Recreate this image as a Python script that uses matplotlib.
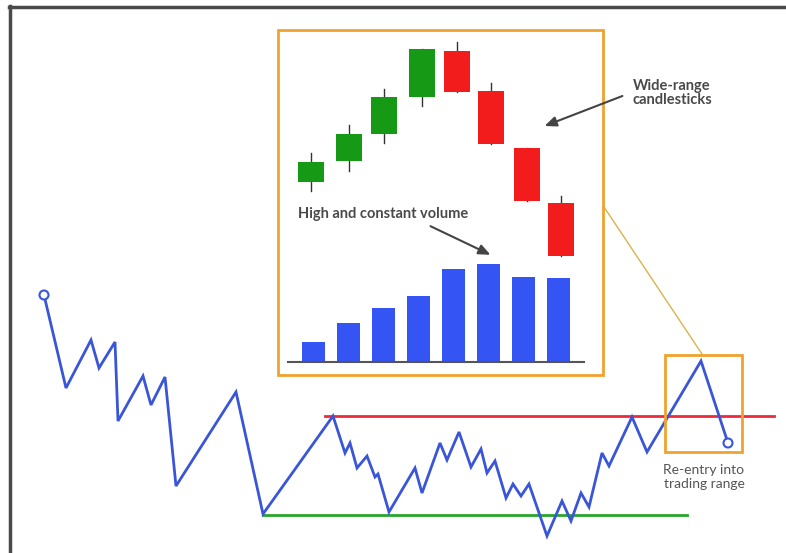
import matplotlib.pyplot as plt
from matplotlib.patches import Rectangle, Circle

plt.rcParams['font.family'] = ['Lato', 'DejaVu Sans']

# price path (pixel units, y grows downwards)
path_x = [44, 66, 91, 99, 115, 118, 143, 151, 165, 176, 236, 263, 333, 345,
          350, 357, 367, 375, 378, 389, 415, 422, 440, 447, 459, 471, 481,
          487, 495, 506, 513, 521, 529, 547, 562, 571, 581, 589, 602, 609,
          632, 647, 701, 728]
path_y = [295, 388, 340, 368, 342, 421, 376, 405, 377, 486, 392, 514, 416,
          453, 443, 468, 456, 477, 474, 512, 468, 493, 443, 460, 432, 467,
          449, 473, 461, 498, 484, 496, 484, 536, 501, 521, 493, 507, 453,
          466, 417, 452, 361, 443]

range_top = 416
range_top_x = [325, 774]
range_bottom = 515
range_bottom_x = [263, 687]

# inset candles
candle_x = [311, 349, 384, 422, 457, 491, 527, 561]
candle_open = [182, 161, 134, 97, 51, 91, 148, 203]
candle_close = [162, 134, 97, 49, 92, 144, 201, 256]
candle_high = [153, 125, 89, 49, 42, 83, 148, 196]
candle_low = [191, 171, 143, 106, 92, 144, 201, 256]

# inset volume
vol_x = [313, 348, 383, 418, 453, 488, 523, 558]
vol_top = [342, 323, 308, 296, 269, 264, 277, 278]
vol_base = 362

fig = plt.figure(figsize=(7.86, 5.53), dpi=100)
ax = fig.add_axes([0, 0, 1, 1])
ax.set_xlim(0, 786)
ax.set_ylim(553, 0)
ax.axis('off')

# outer frame (top and left only)
ax.plot([9, 786], [6.5, 6.5], color='#4a4a4a', lw=2.5)
ax.plot([9.5, 9.5], [6, 553], color='#4a4a4a', lw=2.5)

blue = '#3a56d8'
ax.plot(range_top_x, [range_top, range_top], color='#ee2a3a', lw=2, zorder=2)
ax.plot(range_bottom_x, [range_bottom, range_bottom], color='#2aa52a', lw=2, zorder=2)
ax.plot(path_x, path_y, color=blue, lw=2, zorder=3, solid_joinstyle='miter')
for i in (0, -1):
    ax.add_patch(Circle((path_x[i], path_y[i]), 4.5, facecolor='white',
                        edgecolor=blue, lw=1.5, zorder=4))

orange = '#f0a22e'
ax.add_patch(Rectangle((278, 30), 325, 345, fill=False, edgecolor=orange,
                       lw=2, zorder=5))
ax.add_patch(Rectangle((665, 355), 77, 97, fill=False, edgecolor=orange,
                       lw=2, zorder=5))
ax.plot([604, 702], [207, 354], color='#d8b44a', lw=1, zorder=4)

# candlesticks
for x, o, c, h, l in zip(candle_x, candle_open, candle_close, candle_high, candle_low):
    col = '#169a16' if c < o else '#f21c1c'
    ax.plot([x, x], [h, l], color='#333333', lw=1, zorder=5)
    ax.add_patch(Rectangle((x - 13, min(o, c)), 26, abs(o - c),
                           facecolor=col, edgecolor='none', zorder=6))

# volume bars
ax.bar(vol_x, [vol_base - t for t in vol_top], width=23, bottom=vol_top,
       color='#3454f4', zorder=5)
ax.plot([288, 584], [vol_base, vol_base], color='#555555', lw=1.5, zorder=6)

txt = '#4a4a4a'
ax.text(298, 214, 'High and constant volume', fontsize=10.5, fontweight='bold',
        color=txt, ha='left', va='center', zorder=7)
ax.annotate('', xy=(493, 256), xytext=(428, 225),
            arrowprops=dict(arrowstyle='-|>,head_length=0.7,head_width=0.3',
                            color='#444444', lw=1.5), zorder=7)
ax.text(672, 93, 'Wide-range\ncandlesticks', fontsize=10.5, fontweight='bold',
        color=txt, ha='center', va='center', linespacing=1.0, zorder=7)
ax.annotate('', xy=(542, 127), xytext=(625, 95),
            arrowprops=dict(arrowstyle='-|>,head_length=0.7,head_width=0.3',
                            color='#444444', lw=1.5), zorder=7)
ax.text(704, 477, 'Re-entry into\ntrading range', fontsize=10,
        color='#555555', ha='center', va='center', linespacing=1.1, zorder=7)

fig.savefig('out.png', dpi=100)
